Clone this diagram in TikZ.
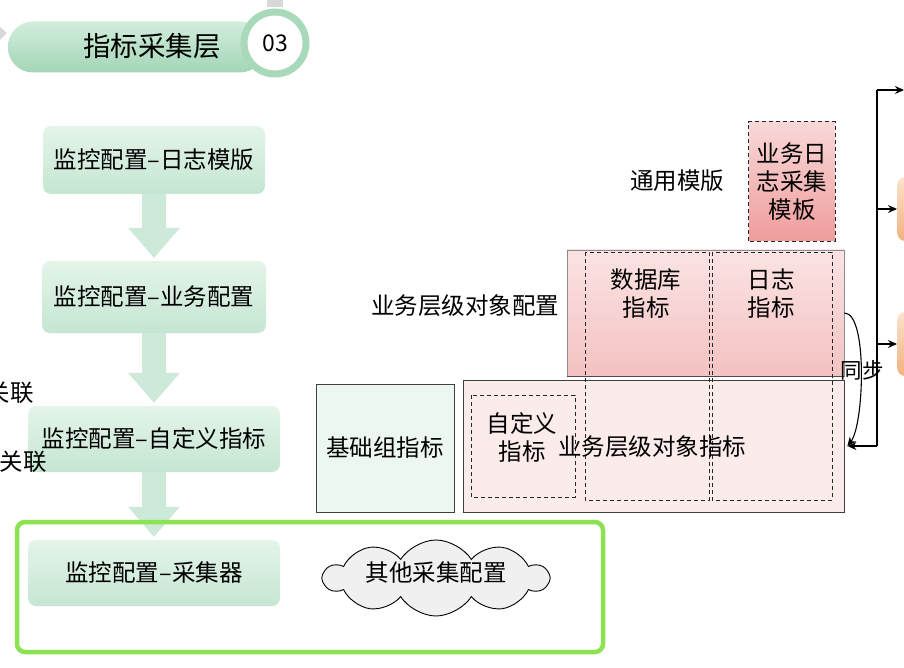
\documentclass[tikz,border=0pt]{standalone}
\usepackage{fontspec}
\setmainfont{Noto Sans CJK SC}
\usetikzlibrary{arrows.meta,shapes.symbols}
\definecolor{gtop}{HTML}{E4F4EA}
\definecolor{gbot}{HTML}{C5E6D2}
\definecolor{garrowc}{HTML}{CDE9D9}
\definecolor{hdtop}{HTML}{D2EDDC}
\definecolor{hdbot}{HTML}{A3D6B6}
\definecolor{ringc}{HTML}{A9D9BB}
\definecolor{limec}{HTML}{8CE352}
\definecolor{pinktop}{HTML}{FBE3E3}
\definecolor{pinkbot}{HTML}{F4C2C2}
\definecolor{pinklight}{HTML}{FCEBEB}
\definecolor{tmpltop}{HTML}{F9D8D8}
\definecolor{tmplbot}{HTML}{EF9C9C}
\definecolor{jcfill}{HTML}{EDF7F1}
\definecolor{cloudc}{HTML}{F0F0F0}
\definecolor{oratop}{HTML}{FBE3CC}
\definecolor{orabot}{HTML}{F0B27E}
\definecolor{fraggray}{HTML}{D8D8D8}
\tikzset{
  gbox/.style={rounded corners=8pt, top color=gtop, bottom color=gbot, draw=none,
    inner sep=0pt},
  garrow/.style={fill=garrowc},
  lbl/.style={font=\fontsize{23.5}{28}\selectfont, inner sep=0pt, align=center},
  dbox/.style={draw=black!85, dashed, dash pattern=on 4pt off 3pt, line width=0.8pt},
  conn/.style={draw=black, line width=1.1pt},
  tip/.style={-{Stealth[length=9pt,width=8pt]}},
}
\newcommand{\bigarrow}[2]{%
  \fill[garrow] ([xshift=-12pt]#1.south) -- ([xshift=12pt]#1.south)
    -- ([xshift=12pt,yshift=33pt]#2.north) -- ([xshift=26pt,yshift=33pt]#2.north)
    -- ([yshift=3pt]#2.north) -- ([xshift=-26pt,yshift=33pt]#2.north)
    -- ([xshift=-12pt,yshift=33pt]#2.north) -- cycle;}
\begin{document}
\begin{tikzpicture}[x=1pt,y=-1pt]
\useasboundingbox (0,0) rectangle (904,668);
% fragments at top
\fill[fraggray] (267,0) rectangle (283,7);
\fill[fraggray] (0,27) -- (7,33) -- (0,40) -- cycle;
% header
\node[rounded corners=25pt, top color=hdtop, bottom color=hdbot, minimum width=257pt,
  minimum height=51pt, inner sep=0pt] (hdr) at (136.5,47) {};
\node[font=\fontsize{27.5}{32}\selectfont, inner sep=0pt] (hdrtxt) at (152,46) {指标采集层};
\node[circle, draw=ringc, line width=7pt, fill=white, minimum size=62pt, inner sep=0pt,
  font=\fontsize{23}{27}\selectfont] (num) at (275,43) {03};
% left green boxes
\node[gbox, minimum width=222pt, minimum height=68pt] (b1) at (154,160) {};
\node[gbox, minimum width=224pt, minimum height=72pt] (b2) at (154,297) {};
\node[gbox, minimum width=252pt, minimum height=66pt] (b3) at (154,439) {};
\node[gbox, minimum width=252pt, minimum height=66pt] (b4) at (154,573) {};
\bigarrow{b1}{b2}
\bigarrow{b2}{b3}
\bigarrow{b3}{b4}
\node[lbl] (b1t) at (154,160) {监控配置–日志模版};
\node[lbl] (b2t) at (154,297) {监控配置–业务配置};
\node[lbl] (b3t) at (154,439) {监控配置–自定义指标};
\node[lbl] (b4t) at (154,573) {监控配置–采集器};
% relation labels
\node[lbl, anchor=east] (rel1) at (34,393) {关联};
\node[lbl, anchor=east] (rel2) at (47,462) {关联};
% green outline
\draw[limec, line width=4.5pt, rounded corners=8pt] (17,522) rectangle (603,652);
% cloud
\node[cloud, cloud puffs=10, cloud puff arc=115, aspect=2.9, draw=black, line width=0.9pt,
  fill=cloudc, minimum width=224pt, minimum height=76pt, inner sep=0pt] (cl) at (436,578) {};
\node[lbl] (clt) at (436,573) {其他采集配置};
% template
\node[lbl] (tyt) at (677,181) {通用模版};
\node[top color=tmpltop, bottom color=tmplbot, minimum width=86pt, minimum height=119pt,
  inner sep=0pt] (tmpl) at (792,181.5) {};
\draw[dbox] (tmpl.south west) rectangle (tmpl.north east);
\node[lbl] (tmplt) at (792,181.5) {业务日\\志采集\\模板};
% business layer config
\node[lbl] (ywpz) at (465,306) {业务层级对象配置};
\node[top color=pinktop, bottom color=pinkbot, draw=black!45, line width=0.8pt,
  minimum width=277pt, minimum height=126pt, inner sep=0pt] (toprect) at (705.5,313) {};
\draw[black!70, line width=1pt] (toprect.south west) -- (toprect.south east);
\node[fill=pinklight, draw=black!75, line width=0.8pt, minimum width=381pt,
  minimum height=132pt, inner sep=0pt] (botrect) at (653.5,446) {};
\node[fill=jcfill, draw=black!75, line width=0.8pt, minimum width=138pt,
  minimum height=128pt, inner sep=0pt, font=\fontsize{23.5}{28}\selectfont] (jc) at (385,448) {基础组指标};
% dashed columns
\draw[dbox] (585,252) rectangle (709,500);
\draw[dbox] (712,252) rectangle (832,500);
\draw[dbox] (471,395) rectangle (575,497);
\node[lbl] (dbt) at (646,294) {数据库\\指标};
\node[lbl] (rzt) at (771,294) {日志\\指标};
\node[lbl] (zdy) at (522,437) {自定义\\指标};
\node[lbl] (ywzb) at (652,447) {业务层级对象指标};
% orange boxes at right edge
\node[rounded corners=8pt, top color=oratop, bottom color=orabot, minimum width=40pt,
  minimum height=64pt, inner sep=0pt, anchor=west] (o1) at (897,209) {};
\node[rounded corners=8pt, top color=oratop, bottom color=orabot, minimum width=40pt,
  minimum height=64pt, inner sep=0pt, anchor=west] (o2) at (897,344) {};
% connectors
\coordinate (j0) at (877,90);
\coordinate (j3) at (877,446);
\coordinate (e0) at (904,90);
\draw[conn] (j0) -- (j3);
\draw[conn, tip] (j0) -- (e0);
\draw[conn, tip] (o1.west -| j0) -- (o1.west);
\draw[conn, tip] (o2.west -| j0) -- (o2.west);
\draw[conn, tip] (j3) -- ([xshift=3pt]botrect.east);
\draw[conn, tip] (toprect.east) .. controls (868,313) and (864,425) .. ([xshift=3pt]botrect.east);
\node[lbl, font=\fontsize{21.5}{25}\selectfont] (tb) at (862,370) {同步};
\end{tikzpicture}
\end{document}
